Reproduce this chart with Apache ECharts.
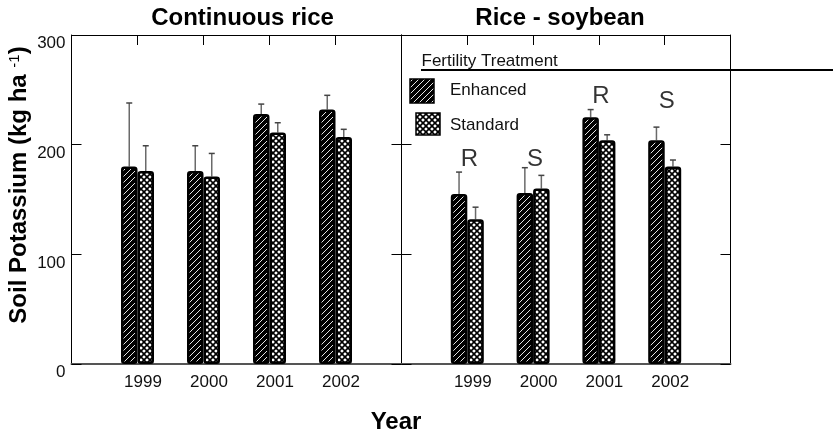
<!DOCTYPE html>
<html>
<head>
<meta charset="utf-8">
<script src="https://cdn.jsdelivr.net/npm/echarts@6/dist/echarts.min.js"></script>
<style>
  html, body { margin: 0; padding: 0; background: #fff; }
  #chart { width: 833px; height: 438px; }
</style>
</head>
<body>
<div id="chart"></div>
<script>
// Sampling years
const years = ['1999', '2000', '2001', '2002'];

// Continuous rice: mean soil K (kg/ha) and error (upper whisker length)
const crEnhanced   = [180, 176, 228, 232];
const crEnhancedSE = [58, 23, 9, 13];
const crStandard   = [176, 171, 211, 207];
const crStandardSE = [23, 21, 9, 7];

// Rice - soybean rotation
const rsEnhanced   = [155, 156, 225, 204];
const rsEnhancedSE = [20, 23, 7, 12];
const rsStandard   = [132, 160, 204, 180];
const rsStandardSE = [11, 12, 5, 6];

// Crop letters over the rotation groups and the level they sit at
const rsCrop      = ['R', 'S', 'R', 'S'];
const rsCropLevel = [180, 180, 238, 233];

// Y axis ticks
const yTicks = [0, 100, 200, 300];

const FONT = '"Liberation Sans", Arial, Helvetica, sans-serif';
const BAR_W = 16.5;

// Fill tiles: diagonal hatch for Enhanced, cross-hatch for Standard
function hatchTile() {
  const c = document.createElement('canvas');
  c.width = c.height = 6;
  const g = c.getContext('2d');
  g.fillStyle = '#000'; g.fillRect(0, 0, 6, 6);
  g.strokeStyle = '#fff'; g.lineWidth = 0.9;
  g.beginPath();
  g.moveTo(-1, 7); g.lineTo(7, -1);
  g.moveTo(-1, 1); g.lineTo(1, -1);
  g.moveTo(5, 7); g.lineTo(7, 5);
  g.stroke();
  return c;
}
function crossTile() {
  const c = document.createElement('canvas');
  c.width = c.height = 6;
  const g = c.getContext('2d');
  g.fillStyle = '#fff'; g.fillRect(0, 0, 6, 6);
  g.strokeStyle = '#000'; g.lineWidth = 1.6;
  g.beginPath();
  g.moveTo(-1, 7); g.lineTo(7, -1);
  g.moveTo(-1, -1); g.lineTo(7, 7);
  g.stroke();
  return c;
}
const hatchFill = { image: hatchTile(), repeat: 'repeat' };
const crossFill = { image: crossTile(), repeat: 'repeat' };

// Category axis padded with an empty slot on each side
const axisCats = [''].concat(years, ['']);

function bottomAxis(gridIndex) {
  return {
    type: 'category', gridIndex, data: axisCats, boundaryGap: false, position: 'bottom',
    axisLine: { onZero: false, lineStyle: { color: '#555', width: 2 } },
    axisTick: { show: false },
    axisLabel: { interval: 0, margin: 10, fontSize: 17, color: '#111', fontFamily: FONT, padding: [0, 0, 0, 11] },
    splitLine: { show: false }
  };
}
function topAxis(gridIndex) {
  return {
    type: 'category', gridIndex, data: axisCats, boundaryGap: false, position: 'top',
    axisLine: { onZero: false, lineStyle: { color: '#000', width: 1 } },
    axisTick: { show: true, inside: true, length: 10, interval: 0, lineStyle: { color: '#000' } },
    axisLabel: { show: false },
    splitLine: { show: false }
  };
}
function valueAxis(gridIndex, position, labels) {
  return {
    type: 'value', gridIndex, position, min: yTicks[0], max: yTicks[yTicks.length - 1], interval: 100,
    axisLine: { show: true, onZero: false, lineStyle: { color: '#000', width: 1 } },
    axisTick: { show: true, inside: true, length: 10, lineStyle: { color: '#000' } },
    axisLabel: labels
      ? { show: true, fontSize: 17, color: '#111', fontFamily: FONT, verticalAlign: 'top', margin: 6 }
      : { show: false },
    splitLine: { show: false }
  };
}

function barSeries(axisIdx, name, values, fill) {
  return {
    type: 'bar', name, xAxisIndex: axisIdx, yAxisIndex: axisIdx,
    data: [null].concat(values, [null]),
    barWidth: BAR_W, barGap: '0%', z: 3,
    itemStyle: { color: fill, borderColor: '#000', borderWidth: 2.5, borderRadius: 2 }
  };
}

function errorSeries(axisIdx, means, ses, offset) {
  return {
    type: 'custom', xAxisIndex: axisIdx, yAxisIndex: axisIdx, z: 2,
    data: years.map((y, i) => [y, means[i], means[i] + ses[i]]),
    encode: { x: 0, y: [1, 2] },
    renderItem(params, api) {
      const lo = api.coord([api.value(0), api.value(1)]);
      const hi = api.coord([api.value(0), api.value(2)]);
      const x = lo[0] + offset;
      return {
        type: 'group',
        children: [
          { type: 'line', shape: { x1: x, y1: lo[1], x2: x, y2: hi[1] }, style: { stroke: '#6a6a6a', lineWidth: 1.5 } },
          { type: 'line', shape: { x1: x - 3, y1: hi[1], x2: x + 3, y2: hi[1] }, style: { stroke: '#444', lineWidth: 1.5 } }
        ]
      };
    }
  };
}

const chart = echarts.init(document.getElementById('chart'), null, { renderer: 'canvas' });

chart.setOption({
  animation: false,
  backgroundColor: '#fff',
  grid: [
    { left: 71.5, top: 35, width: 330, height: 329 },
    { left: 401.5, top: 35, width: 329, height: 329 }
  ],
  xAxis: [bottomAxis(0), topAxis(0), bottomAxis(1), topAxis(1)],
  yAxis: [valueAxis(0, 'left', true), valueAxis(0, 'right', false), valueAxis(1, 'left', false), valueAxis(1, 'right', false)],
  series: [
    barSeries(0, 'Enhanced', crEnhanced, hatchFill),
    barSeries(0, 'Standard', crStandard, crossFill),
    errorSeries(0, crEnhanced, crEnhancedSE, -BAR_W / 2),
    errorSeries(0, crStandard, crStandardSE, BAR_W / 2),
    barSeries(2, 'Enhanced', rsEnhanced, hatchFill),
    barSeries(2, 'Standard', rsStandard, crossFill),
    errorSeries(2, rsEnhanced, rsEnhancedSE, -BAR_W / 2),
    errorSeries(2, rsStandard, rsStandardSE, BAR_W / 2),
    {
      type: 'scatter', xAxisIndex: 2, yAxisIndex: 2, symbolSize: 0, z: 4,
      data: years.map((y, i) => [y, rsCropLevel[i], rsCrop[i]]),
      label: {
        show: true, position: 'top', distance: 0, offset: [2, 5],
        formatter: p => p.value[2], fontSize: 24, color: '#000', fontFamily: FONT
      }
    }
  ],
  graphic: [
    { type: 'text', x: 242.5, y: 18.5, style: { text: 'Continuous rice', font: 'bold 24px ' + FONT, fill: '#000', align: 'center', verticalAlign: 'middle' } },
    { type: 'text', x: 560, y: 18.5, style: { text: 'Rice - soybean', font: 'bold 24px ' + FONT, fill: '#000', align: 'center', verticalAlign: 'middle' } },
    { type: 'text', x: 396, y: 422, style: { text: 'Year', font: 'bold 24px ' + FONT, fill: '#000', align: 'center', verticalAlign: 'middle' } },
    {
      type: 'text', x: 19, y: 185, rotation: Math.PI / 2,
      style: {
        text: '{m|Soil Potassium (kg ha }{s|-1}{m|)}',
        align: 'center', verticalAlign: 'middle', fill: '#000',
        rich: {
          m: { fontSize: 24, fontWeight: 'bold', fontFamily: FONT, fill: '#000' },
          s: { fontSize: 15, fontWeight: 'normal', fontFamily: FONT, fill: '#000', verticalAlign: 'top' }
        }
      }
    },
    // Legend
    { type: 'text', x: 421.5, y: 61, style: { text: 'Fertility Treatment', font: '17px ' + FONT, fill: '#111', align: 'left', verticalAlign: 'middle' } },
    { type: 'line', shape: { x1: 421, y1: 70, x2: 833, y2: 70 }, style: { stroke: '#000', lineWidth: 2 } },
    { type: 'rect', shape: { x: 410, y: 79, width: 24, height: 24 }, style: { fill: hatchFill, stroke: '#000', lineWidth: 1.5 } },
    { type: 'text', x: 450, y: 90.5, style: { text: 'Enhanced', font: '17px ' + FONT, fill: '#111', align: 'left', verticalAlign: 'middle' } },
    { type: 'rect', shape: { x: 416, y: 113, width: 24, height: 22 }, style: { fill: crossFill, stroke: '#000', lineWidth: 1.5 } },
    { type: 'text', x: 450, y: 125.5, style: { text: 'Standard', font: '17px ' + FONT, fill: '#111', align: 'left', verticalAlign: 'middle' } }
  ]
});
</script>
</body>
</html>
